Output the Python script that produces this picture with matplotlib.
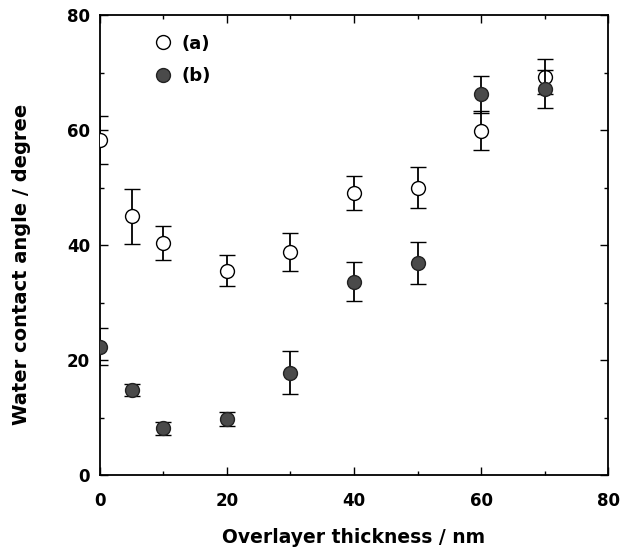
import matplotlib
matplotlib.use("Agg")
import matplotlib.pyplot as plt
from matplotlib.ticker import MultipleLocator
from matplotlib.lines import Line2D

thickness = [0, 5, 10, 20, 30, 40, 50, 60, 70]
angle_a = [58.3, 45.0, 40.4, 35.5, 38.8, 49.1, 50.0, 59.9, 69.3]
err_a = [4.2, 4.8, 3.0, 2.7, 3.3, 3.0, 3.5, 3.4, 3.0]
angle_b = [22.3, 14.8, 8.1, 9.7, 17.8, 33.6, 36.9, 66.2, 67.2]
err_b = [3.2, 1.1, 1.2, 1.2, 3.7, 3.4, 3.6, 3.3, 3.3]

plt.rcParams['font.family'] = ['DejaVu Sans']
plt.rcParams['font.weight'] = 'bold'

fig = plt.figure(figsize=(6.2, 5.54), dpi=100)
ax = fig.add_axes([0.161, 0.1426, 0.820, 0.830])

ax.errorbar(thickness, angle_a, yerr=err_a, fmt='o', ms=10, mfc='white', mec='black',
            mew=1.0, ecolor='black', elinewidth=1.3, capsize=5.5, capthick=1.8, zorder=3)
ax.errorbar(thickness, angle_b, yerr=err_b, fmt='o', ms=10, mfc='#4a4a4a', mec='#222222',
            mew=1.0, ecolor='black', elinewidth=1.3, capsize=5.5, capthick=1.8, zorder=4)

ax.set_xlim(0, 80)
ax.set_ylim(0, 80)
ax.xaxis.set_major_locator(MultipleLocator(20))
ax.xaxis.set_minor_locator(MultipleLocator(10))
ax.yaxis.set_major_locator(MultipleLocator(20))
ax.yaxis.set_minor_locator(MultipleLocator(10))
ax.tick_params(which='both', direction='in', top=True, right=True, labelsize=12, width=1.0)
ax.tick_params(which='major', length=6)
ax.tick_params(which='minor', length=3)
ax.tick_params(axis='x', pad=12)
ax.tick_params(axis='y', pad=7)
for s in ax.spines.values():
    s.set_linewidth(1.3)

ax.set_xlabel('Overlayer thickness / nm', fontsize=13.5, fontweight='bold', labelpad=13)
ax.set_ylabel('Water contact angle / degree', fontsize=14, fontweight='bold')
ax.yaxis.set_label_coords(-0.135, 0.459)

handles = [Line2D([], [], ls='none', marker='o', ms=10, mfc='white', mec='black', mew=1.0),
           Line2D([], [], ls='none', marker='o', ms=10, mfc='#4a4a4a', mec='#222222', mew=1.0)]
ax.legend(handles, ['(a)', '(b)'], loc='upper left', bbox_to_anchor=(0.075, 0.993),
          frameon=False, fontsize=13, handlelength=1.0, handletextpad=0.5, labelspacing=0.8)

fig.savefig('out.png', dpi=100)
